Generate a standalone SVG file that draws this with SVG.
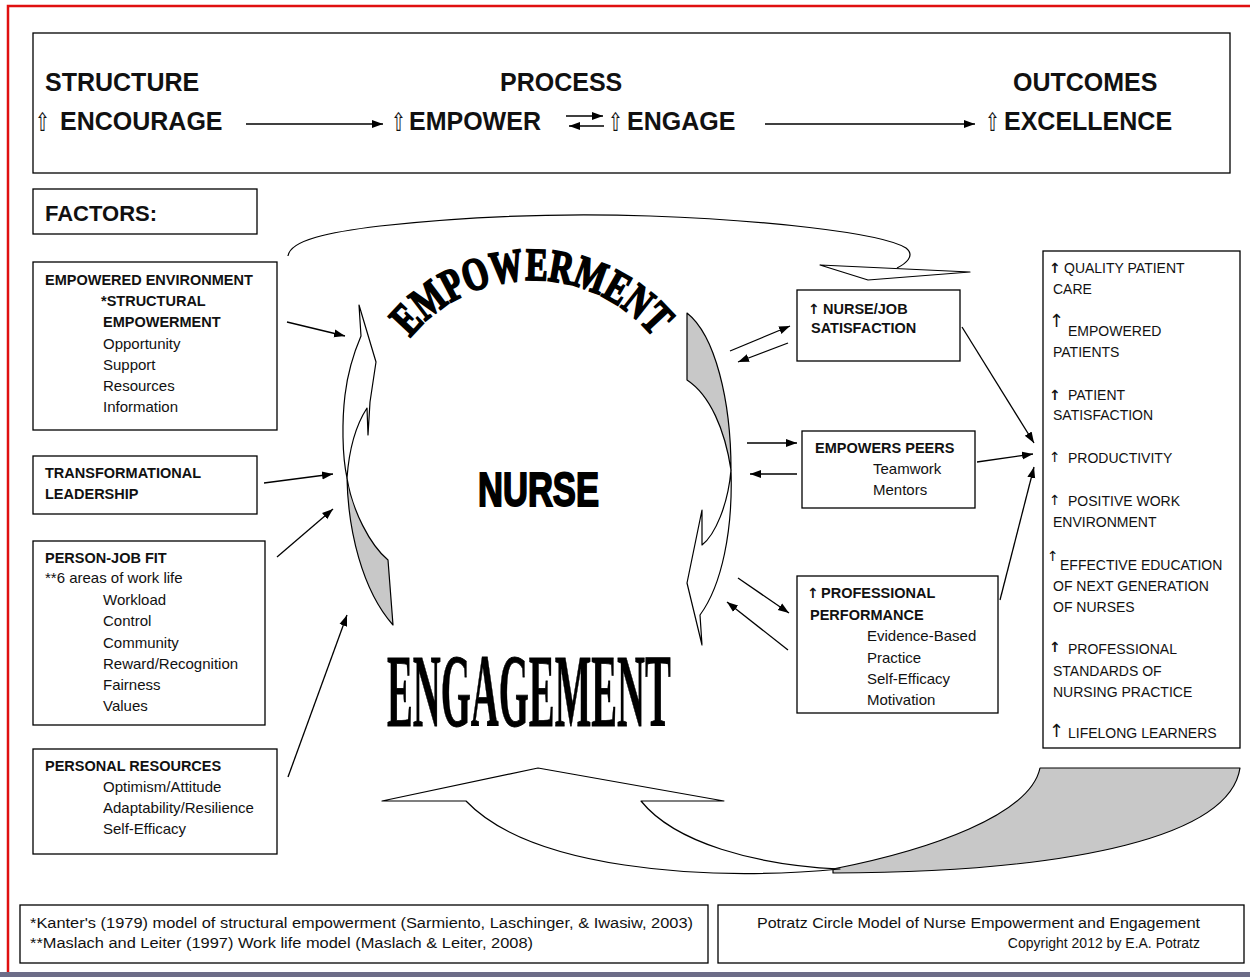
<svg xmlns="http://www.w3.org/2000/svg" width="1250" height="977" viewBox="0 0 1250 977">
<defs>
<marker id="ah" markerWidth="12" markerHeight="10" refX="11" refY="5" orient="auto" markerUnits="userSpaceOnUse">
<path d="M0,1 L11,5 L0,9 Z" fill="#000"/>
</marker>
<style>
.box{fill:#fff;stroke:#000;stroke-width:1.3}
.t{font-family:"Liberation Sans",Arial,sans-serif;font-size:15px;fill:#111}
.b{font-weight:bold}
.h{font-family:"Liberation Sans",Arial,sans-serif;font-size:25px;font-weight:bold;fill:#111}
.up{font-family:"DejaVu Sans",sans-serif;font-size:30px;fill:#111}
.o{font-family:"Liberation Sans",Arial,sans-serif;font-size:14px;fill:#111}
.ar{font-family:"DejaVu Sans",sans-serif;font-size:14px;font-weight:bold;fill:#111}
.c{fill:none;stroke:#000;stroke-width:1.3;marker-end:url(#ah)}
.sh{stroke:#000;stroke-width:1.2;stroke-linejoin:round}
.f{font-family:"Liberation Sans",Arial,sans-serif;font-size:14px;fill:#111}
.big{font-family:"Liberation Serif","Times New Roman",serif;font-weight:bold;fill:#000;stroke:#000}
</style>
<path id="arcE" d="M 396,358.5 A 157 157 0 0 1 668,358.5" fill="none"/>
</defs>
<rect width="1250" height="977" fill="#fff"/>
<path d="M8,977 L8,6 L1250,6" fill="none" stroke="#e01010" stroke-width="2.5"/>
<rect x="0" y="972" width="1250" height="5" fill="#6d6d88"/>

<g id="header">
<rect class="box" x="33" y="33" width="1197" height="140"/>
<text class="h" x="45" y="91">STRUCTURE</text>
<text class="up" transform="translate(35,131) scale(0.6,0.85)">⇧</text>
<text class="h" x="60" y="130">ENCOURAGE</text>
<text class="h" x="500" y="91">PROCESS</text>
<text class="up" transform="translate(391,131) scale(0.6,0.85)">⇧</text>
<text class="h" x="409" y="130">EMPOWER</text>
<text class="up" transform="translate(608,131) scale(0.6,0.85)">⇧</text>
<text class="h" x="627" y="130">ENGAGE</text>
<text class="h" x="1013" y="91">OUTCOMES</text>
<text class="up" transform="translate(985,131) scale(0.6,0.85)">⇧</text>
<text class="h" x="1004" y="130">EXCELLENCE</text>
</g>

<g id="factors">
<rect class="box" x="33" y="189" width="224" height="45"/>
<text class="t b" x="45" y="221" style="font-size:22px">FACTORS:</text>
</g>

<g id="empowered-environment">
<rect class="box" x="33" y="262" width="244" height="168"/>
<text class="t b" x="45" y="285" style="font-size:14.5px">EMPOWERED ENVIRONMENT</text>
<text class="t b" x="101" y="306" style="font-size:14.5px">*STRUCTURAL</text>
<text class="t b" x="103" y="327" style="font-size:14.5px">EMPOWERMENT</text>
<text class="t" x="103" y="349">Opportunity</text>
<text class="t" x="103" y="370">Support</text>
<text class="t" x="103" y="391">Resources</text>
<text class="t" x="103" y="412">Information</text>
</g>

<g id="transformational-leadership">
<rect class="box" x="33" y="456" width="224" height="58"/>
<text class="t b" x="45" y="478" style="font-size:14.5px">TRANSFORMATIONAL</text>
<text class="t b" x="45" y="499" style="font-size:14.5px">LEADERSHIP</text>
</g>

<g id="person-job-fit">
<rect class="box" x="33" y="541" width="232" height="184"/>
<text class="t b" x="45" y="563" style="font-size:14.5px">PERSON-JOB FIT</text>
<text class="t" x="45" y="583">**6 areas of work life</text>
<text class="t" x="103" y="605">Workload</text>
<text class="t" x="103" y="626">Control</text>
<text class="t" x="103" y="648">Community</text>
<text class="t" x="103" y="669">Reward/Recognition</text>
<text class="t" x="103" y="690">Fairness</text>
<text class="t" x="103" y="711">Values</text>
</g>

<g id="personal-resources">
<rect class="box" x="33" y="749" width="244" height="105"/>
<text class="t b" x="45" y="771" style="font-size:14.5px">PERSONAL RESOURCES</text>
<text class="t" x="103" y="792">Optimism/Attitude</text>
<text class="t" x="103" y="813">Adaptability/Resilience</text>
<text class="t" x="103" y="834">Self-Efficacy</text>
</g>

<g id="cycle">
<path class="sh" d="M288,256 C290,240 330,232 380,226 C470,216 560,213 650,216 C760,220 880,232 906,248 C916,256 905,264 897,268" fill="none" stroke-width="2.2"/>
<path class="sh" d="M820,265 L970,272 L868,280 Z" fill="#fff"/>
<path class="sh" d="M359,305 L376,362 L370,402 L368,435 L367,408 C356,425 349,450 347,478 C342,455 342,420 345,395 C348,370 355,350 361,336 Z" fill="#fff"/>
<path class="sh" d="M347,478 C352,510 370,545 388,560 L393,625 C362,590 348,530 347,478 Z" fill="#c8c8c8"/>
<path class="sh" d="M687,313 C715,335 731,400 731,470 C725,430 710,395 687,380 Z" fill="#c8c8c8"/>
<path class="sh" d="M731,470 C733,530 722,585 700,615 L702,645 L687,583 L702,510 L702,545 C715,535 728,505 731,470 Z" fill="#fff"/>
<path class="sh" d="M833,869 C930,850 1030,815 1040,768 L1240,768 C1230,835 1080,872 833,873 Z" fill="#c8c8c8"/>
<path class="sh" d="M382,801 L538,768 L724,801 L641,801 C675,843 755,865 840,869 C700,882 530,868 466,801 Z" fill="#fff"/>
</g>

<g id="nurse-center">
<text class="big" font-size="46" stroke-width="2"><textPath href="#arcE" startOffset="25" textLength="278" lengthAdjust="spacingAndGlyphs">EMPOWERMENT</textPath></text>
<text transform="translate(478,506) scale(0.72,1)" font-family="Liberation Sans, Arial, sans-serif" font-weight="bold" font-size="48" stroke="#000" stroke-width="2">NURSE</text>
<text class="big" transform="translate(387,726) scale(0.372,1)" font-size="104" stroke-width="0.8">ENGAGEMENT</text>
</g>

<g id="nurse-job-satisfaction">
<rect class="box" x="797" y="290" width="163" height="71"/>
<text class="ar" x="808" y="314">↑</text>
<text class="t b" x="823" y="314" style="font-size:14.5px">NURSE/JOB</text>
<text class="t b" x="811" y="333" style="font-size:14.5px">SATISFACTION</text>
</g>

<g id="empowers-peers">
<rect class="box" x="802" y="431" width="173" height="77"/>
<text class="t b" x="815" y="453" style="font-size:14.5px">EMPOWERS PEERS</text>
<text class="t" x="873" y="474">Teamwork</text>
<text class="t" x="873" y="495">Mentors</text>
</g>

<g id="professional-performance">
<rect class="box" x="797" y="576" width="201" height="137"/>
<text class="ar" x="807" y="598">↑</text>
<text class="t b" x="821" y="598" style="font-size:14.5px">PROFESSIONAL</text>
<text class="t b" x="810" y="620" style="font-size:14.5px">PERFORMANCE</text>
<text class="t" x="867" y="641">Evidence-Based</text>
<text class="t" x="867" y="663">Practice</text>
<text class="t" x="867" y="684">Self-Efficacy</text>
<text class="t" x="867" y="705">Motivation</text>
</g>

<g id="outcomes">
<rect class="box" x="1043" y="251" width="197" height="497"/>
<text class="ar" x="1049" y="273">↑</text>
<text class="o" x="1064" y="273">QUALITY PATIENT</text>
<text class="o" x="1053" y="294">CARE</text>
<text class="ar" x="1049" y="327" style="font-size:18px;font-weight:normal">↑</text>
<text class="o" x="1068" y="336">EMPOWERED</text>
<text class="o" x="1053" y="357">PATIENTS</text>
<text class="ar" x="1049" y="400">↑</text>
<text class="o" x="1068" y="400">PATIENT</text>
<text class="o" x="1053" y="420">SATISFACTION</text>
<text class="ar" x="1049" y="462" style="font-weight:normal">↑</text>
<text class="o" x="1068" y="463">PRODUCTIVITY</text>
<text class="ar" x="1049" y="505" style="font-weight:normal">↑</text>
<text class="o" x="1068" y="506">POSITIVE WORK</text>
<text class="o" x="1053" y="527">ENVIRONMENT</text>
<text class="ar" x="1047" y="561" style="font-weight:normal">↑</text>
<text class="o" x="1060" y="570">EFFECTIVE EDUCATION</text>
<text class="o" x="1053" y="591">OF NEXT GENERATION</text>
<text class="o" x="1053" y="612">OF NURSES</text>
<text class="ar" x="1049" y="652">↑</text>
<text class="o" x="1068" y="654">PROFESSIONAL</text>
<text class="o" x="1053" y="676">STANDARDS OF</text>
<text class="o" x="1053" y="697">NURSING PRACTICE</text>
<text class="ar" x="1049" y="737" style="font-size:18px;font-weight:normal">↑</text>
<text class="o" x="1068" y="738">LIFELONG LEARNERS</text>
</g>

<g id="connectors">
<path class="c" d="M246,124 L383,124"/>
<path class="c" d="M566,116 L603,116"/>
<path class="c" d="M604,126 L569,126"/>
<path class="c" d="M765,124 L975,124"/>
<path class="c" d="M287,322 L345,336"/>
<path class="c" d="M264,483 L333,474"/>
<path class="c" d="M277,557 L333,509"/>
<path class="c" d="M288,777 L347,615"/>
<path class="c" d="M730,351 L790,326"/>
<path class="c" d="M788,343 L738,362"/>
<path class="c" d="M747,443 L797,443"/>
<path class="c" d="M797,474 L750,474"/>
<path class="c" d="M738,578 L789,613"/>
<path class="c" d="M788,650 L727,602"/>
<path class="c" d="M962,327 L1034,443"/>
<path class="c" d="M977,462 L1033,454"/>
<path class="c" d="M1000,600 L1034,467"/>
</g>

<g id="footnotes">
<rect class="box" x="20" y="905" width="688" height="58"/>
<text class="f" x="30" y="928" textLength="663" lengthAdjust="spacingAndGlyphs">*Kanter's (1979) model of structural empowerment (Sarmiento, Laschinger, &amp; Iwasiw, 2003)</text>
<text class="f" x="30" y="948" textLength="503" lengthAdjust="spacingAndGlyphs">**Maslach and Leiter (1997) Work life model (Maslach &amp; Leiter, 2008)</text>
</g>
<g id="credit">
<rect class="box" x="718" y="905" width="526" height="58"/>
<text class="f" x="757" y="928" textLength="443" lengthAdjust="spacingAndGlyphs">Potratz Circle Model of Nurse Empowerment and Engagement</text>
<text class="f" x="1200" y="948" text-anchor="end">Copyright 2012 by E.A. Potratz</text>
</g>
</svg>
